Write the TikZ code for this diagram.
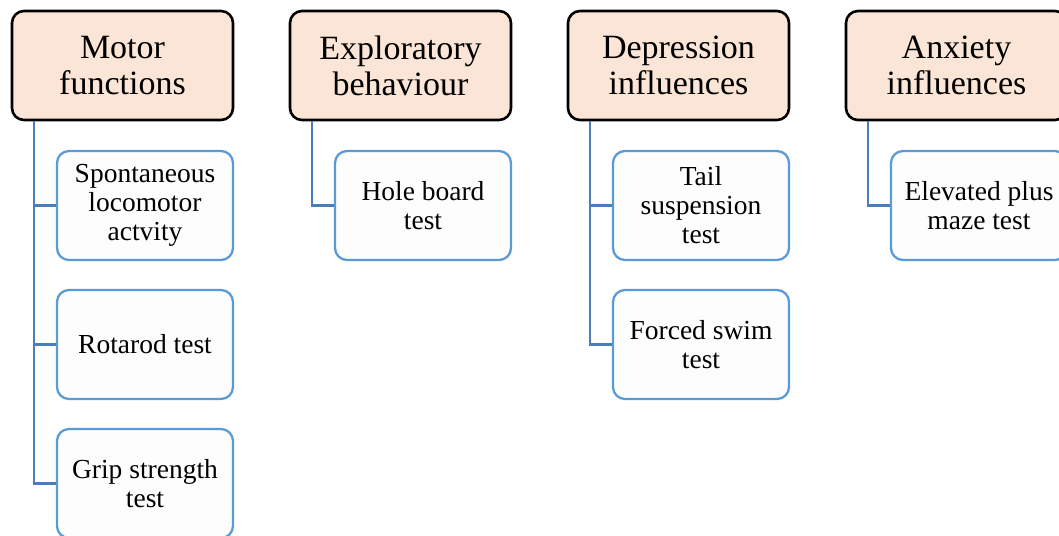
\documentclass[tikz,border=0pt]{standalone}
\usepackage{fontspec}
\setmainfont{Liberation Serif}
\usepackage{tikz}
\definecolor{headfill}{HTML}{FBE5D6}
\definecolor{itemline}{HTML}{5B9BD5}
\definecolor{linkline}{HTML}{4A7EBB}
\definecolor{itemfill}{HTML}{FDFDFD}

\begin{document}
\begin{tikzpicture}[x=1pt, y=-1pt,
        head/.style={draw, line width=2.6pt, rounded corners=12pt, fill=headfill, minimum width=221pt, minimum height=109pt, align=center, font=\fontsize{34}{36}\selectfont},
        item/.style={draw=itemline, line width=2.3pt, rounded corners=12pt, fill=itemfill, minimum width=176pt, minimum height=109pt, align=center, font=\fontsize{27.5}{29}\selectfont},
        link/.style={draw=linkline, line width=2.4pt}]
        \useasboundingbox (0,0) rectangle (1059,535);

        \node[head] (motor) at (122.5, 65.5) {Motor\\functions};
        \node[head] (explore) at (400.5, 65.5) {Exploratory\\behaviour};
        \node[head] (depress) at (678.5, 65.5) {Depression\\influences};
        \node[head] (anxiety) at (956.5, 65.5) {Anxiety\\influences};

        \node[item] (spont) at (145, 205.5) {Spontaneous\\locomotor\\actvity};
        \node[item] (rotarod) at (145, 344.5) {Rotarod test};
        \node[item] (grip) at (145, 483.5) {Grip strength\\test};
        \node[item] (hole) at (423, 205.5) {Hole board\\test};
        \node[item] (tail) at (701, 205.5) {Tail\\suspension\\test};
        \node[item] (swim) at (701, 344.5) {Forced swim\\test};
        \node[item] (maze) at (979, 205.5) {Elevated plus\\maze test};

        \draw[link] ([xshift=23pt]motor.south west) |- (grip.west);
        \draw[link] ([xshift=23pt]motor.south west) |- (rotarod.west);
        \draw[link] ([xshift=23pt]motor.south west) |- (spont.west);
        \draw[link] ([xshift=23pt]explore.south west) |- (hole.west);
        \draw[link] ([xshift=23pt]depress.south west) |- (swim.west);
        \draw[link] ([xshift=23pt]depress.south west) |- (tail.west);
        \draw[link] ([xshift=23pt]anxiety.south west) |- (maze.west);
    \end{tikzpicture}
\end{document}
